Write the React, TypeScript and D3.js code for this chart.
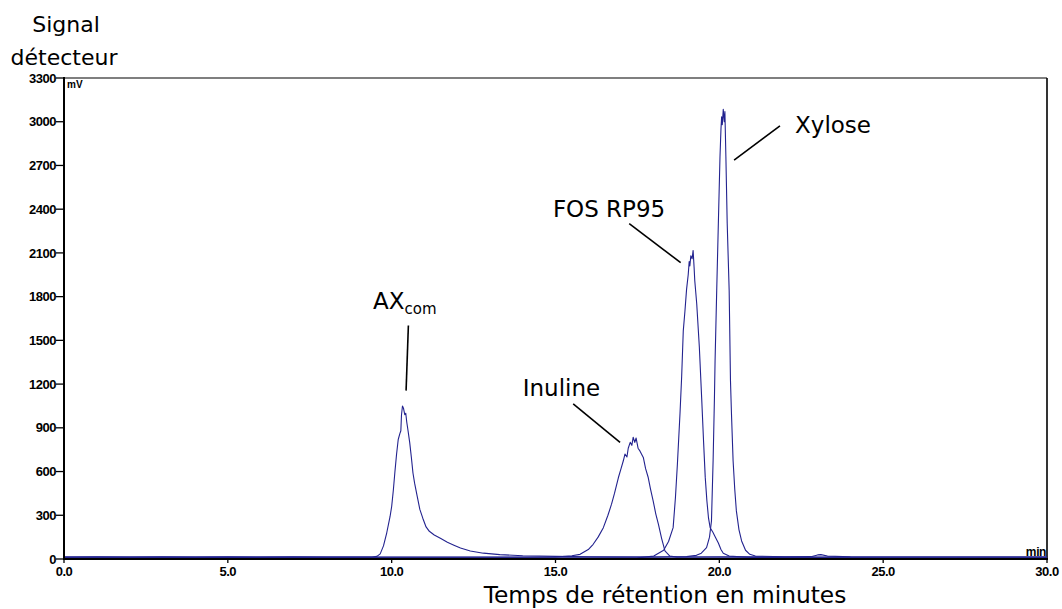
import React from "react";
import * as d3 from "d3";

const W = 1062;
const H = 609;

// Retention time (min) and detector signal (mV) for each overlaid run
const axcomTrace: [number, number][] = [
  [0, 14], [1, 15], [2, 14], [3, 15], [4, 14], [5, 15], [6, 14], [7, 15], [8, 14], [9.4, 14],
  [9.55, 18], [9.65, 35], [9.75, 90], [9.85, 180], [9.95, 290], [10.0, 360], [10.05, 470],
  [10.1, 600], [10.15, 720], [10.2, 820], [10.25, 860], [10.28, 880], [10.3, 990], [10.33, 1050],
  [10.36, 1035], [10.4, 990], [10.43, 1000], [10.46, 940], [10.5, 880], [10.55, 800], [10.6, 700],
  [10.65, 590], [10.7, 520], [10.78, 430], [10.86, 340], [10.95, 280], [11.05, 220], [11.15, 190],
  [11.3, 165], [11.5, 140], [11.7, 115], [11.9, 95], [12.1, 75], [12.4, 55], [12.8, 40],
  [13.3, 30], [14, 22], [15, 18], [16, 15], [18, 14], [20, 15], [23, 14], [30, 14],
];

const inulineTrace: [number, number][] = [
  [0, 12], [5, 11], [10, 12], [14, 12], [15, 14], [15.5, 22], [15.75, 32], [16, 65], [16.15, 101],
  [16.3, 150], [16.46, 215], [16.6, 300], [16.71, 376], [16.8, 450], [16.92, 559], [17.0, 620],
  [17.07, 674], [17.12, 720], [17.18, 700], [17.22, 760], [17.28, 800], [17.33, 780], [17.37, 835],
  [17.42, 800], [17.46, 830], [17.52, 760], [17.58, 740], [17.68, 697], [17.75, 620], [17.83, 559],
  [17.9, 480], [17.98, 399], [18.06, 310], [18.14, 239], [18.24, 140], [18.34, 55], [18.49, 20],
  [18.7, 13], [20, 12], [25, 12], [30, 12],
];

const fosTrace: [number, number][] = [
  [0, 5], [10, 5], [16, 5], [17.5, 8], [18.0, 20], [18.3, 60], [18.45, 120], [18.59, 215],
  [18.66, 420], [18.72, 650], [18.8, 1000], [18.85, 1250], [18.9, 1567], [18.95, 1700],
  [19.0, 1850], [19.05, 1950], [19.08, 2040], [19.1, 2010], [19.13, 2080], [19.17, 2060],
  [19.2, 2117], [19.23, 2000], [19.25, 1911], [19.31, 1751], [19.39, 1453], [19.46, 1109],
  [19.52, 800], [19.57, 560], [19.62, 400], [19.67, 280], [19.72, 215], [19.8, 185], [19.88, 150],
  [19.97, 110], [20.05, 65], [20.12, 40], [20.3, 20], [21, 10], [25, 6], [30, 5],
];

const xyloseTrace: [number, number][] = [
  [0, 13], [10, 13], [18, 13], [19, 16], [19.3, 25], [19.45, 40], [19.61, 78], [19.7, 150],
  [19.76, 261], [19.81, 674], [19.85, 1100], [19.87, 1361], [19.92, 1843], [19.97, 2303],
  [20.02, 2759], [20.05, 2950], [20.07, 3034], [20.09, 2980], [20.12, 3085], [20.15, 3000],
  [20.17, 3069], [20.2, 2759], [20.24, 2303], [20.3, 1843], [20.34, 1224], [20.37, 1000],
  [20.42, 674], [20.47, 480], [20.52, 330], [20.6, 200], [20.68, 124], [20.8, 60], [20.93, 32],
  [21.1, 20], [22, 15], [22.8, 16], [23.0, 28], [23.1, 30], [23.3, 20], [24, 15], [30, 13],
];

const traces = [axcomTrace, inulineTrace, fosTrace, xyloseTrace];

const xTicks = [0, 5, 10, 15, 20, 25, 30];
const yTicks = [0, 300, 600, 900, 1200, 1500, 1800, 2100, 2400, 2700, 3000, 3300];

// Peak annotations: label anchor (t, mV) and leader line from/to (t, mV)
const peakLabels = ["AX", "Inuline", "FOS RP95", "Xylose"];
const labelPos: [number, number][] = [[9.43, 1712], [14.0, 1121], [14.92, 2344], [22.31, 2922]];
const leaderFrom: [number, number][] = [[10.51, 1602], [15.54, 1064], [17.25, 2301], [21.85, 2972]];
const leaderTo: [number, number][] = [[10.44, 1155], [16.97, 800], [18.82, 2033], [20.45, 2736]];

const LEFT = 64;
const RIGHT = 1047;
const TOP = 78;
const BOTTOM = 559;

export default function App() {
  const x = d3.scaleLinear().domain([0, 30]).range([LEFT, RIGHT]);
  const y = d3.scaleLinear().domain([0, 3300]).range([BOTTOM, TOP]);
  const line = d3
    .line<[number, number]>()
    .x((d) => x(d[0]))
    .y((d) => y(d[1]));

  const tickFont = "'Liberation Sans', Arial, sans-serif";
  const textFont = "'DejaVu Sans', Verdana, sans-serif";

  return (
    <svg
      width={W}
      height={H}
      style={{ position: "absolute", left: 0, top: 0, background: "#fff" }}
    >
      <rect x={0} y={0} width={W} height={H} fill="#fff" />
      {/* frame */}
      <line x1={LEFT} x2={RIGHT} y1={TOP} y2={TOP} stroke="#000" strokeWidth={1.2} />
      <line x1={RIGHT} x2={RIGHT} y1={TOP} y2={BOTTOM} stroke="#000" strokeWidth={1.6} />
      {/* traces */}
      <g fill="none" stroke="#23238f" strokeWidth={1.1} strokeLinejoin="round">
        {traces.map((t, i) => (
          <path key={i} d={line(t) || ""} />
        ))}
      </g>
      {/* axes */}
      <line x1={LEFT} x2={LEFT} y1={TOP - 1} y2={BOTTOM + 1} stroke="#000" strokeWidth={2} />
      <line x1={LEFT - 1} x2={RIGHT + 1} y1={BOTTOM} y2={BOTTOM} stroke="#000" strokeWidth={2} />
      {yTicks.map((v) => (
        <g key={v}>
          <line x1={LEFT - 8} x2={LEFT} y1={y(v)} y2={y(v)} stroke="#000" strokeWidth={1.3} />
          <text
            x={LEFT - 8}
            y={y(v)}
            dy="0.36em"
            textAnchor="end"
            fontFamily={tickFont}
            fontWeight={700}
            fontSize={13}
            letterSpacing={-0.5}
          >
            {v}
          </text>
        </g>
      ))}
      {xTicks.map((t) => (
        <g key={t}>
          <line x1={x(t)} x2={x(t)} y1={BOTTOM} y2={BOTTOM + 4} stroke="#000" strokeWidth={1.3} />
          <text
            x={x(t)}
            y={BOTTOM + 17}
            textAnchor="middle"
            fontFamily={tickFont}
            fontWeight={700}
            fontSize={13}
            letterSpacing={-0.5}
          >
            {t.toFixed(1)}
          </text>
        </g>
      ))}
      <text x={LEFT + 3} y={TOP + 10} fontFamily={tickFont} fontWeight={700} fontSize={10}>
        mV
      </text>
      <text
        x={RIGHT - 1}
        y={BOTTOM - 3}
        textAnchor="end"
        fontFamily={tickFont}
        fontWeight={700}
        fontSize={12}
        letterSpacing={-0.4}
      >
        min
      </text>
      {/* axis titles */}
      <text x={66} y={32} textAnchor="middle" fontFamily={textFont} fontSize={22}>
        Signal
      </text>
      <text x={64} y={65} textAnchor="middle" fontFamily={textFont} fontSize={22}>
        détecteur
      </text>
      <text x={665} y={603} textAnchor="middle" fontFamily={textFont} fontSize={23.3}>
        Temps de rétention en minutes
      </text>
      {/* peak annotations */}
      {peakLabels.map((lab, i) => (
        <g key={lab}>
          <line
            x1={x(leaderFrom[i][0])}
            y1={y(leaderFrom[i][1])}
            x2={x(leaderTo[i][0])}
            y2={y(leaderTo[i][1])}
            stroke="#000"
            strokeWidth={1.6}
          />
          <text
            x={x(labelPos[i][0])}
            y={y(labelPos[i][1])}
            fontFamily={textFont}
            fontSize={23}
          >
            {lab}
            {i === 0 ? (
              <tspan fontSize={15} dy={5}>
                com
              </tspan>
            ) : null}
          </text>
        </g>
      ))}
    </svg>
  );
}
